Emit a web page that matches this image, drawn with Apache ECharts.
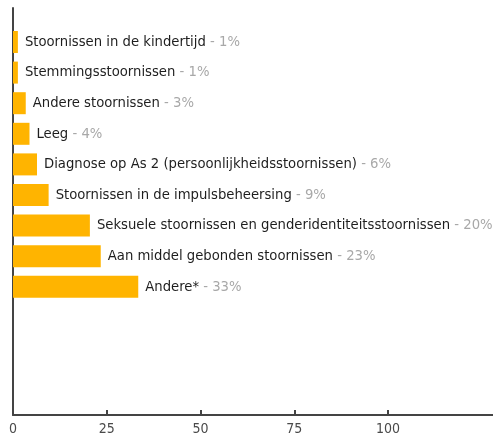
<!DOCTYPE html>
<html lang="nl">
<head>
  <meta charset="UTF-8">
  <title>stoornissen</title>
  <style>
    html, body { margin:0; padding:0; background:#fff; }
    #chart { width:493px; height:437px; }
  </style>
</head>
<body>
  <div id="chart"></div>
  <script src="https://cdn.jsdelivr.net/npm/echarts@6/dist/echarts.min.js"></script>
  <script>
    var categories = [
      'Stoornissen in de kindertijd',
      'Stemmingsstoornissen',
      'Andere stoornissen',
      'Leeg',
      'Diagnose op As 2 (persoonlijkheidsstoornissen)',
      'Stoornissen in de impulsbeheersing',
      'Seksuele stoornissen en genderidentiteitsstoornissen',
      'Aan middel gebonden stoornissen',
      'Andere*'
    ]
    var values = [1.3, 1.3, 3.4, 4.4, 6.4, 9.5, 20.5, 23.4, 33.4]
    var percents = [1, 1, 3, 4, 6, 9, 20, 23, 33]
    var xTicks = [0, 25, 50, 75, 100]

    var font = '"DejaVu Sans Condensed", "Liberation Sans Narrow", sans-serif'

    var myChart = echarts.init(document.getElementById('chart'))
    var option = {
      animation: false,
      grid: [
        { left: 13, right: 0, top: 26.7, bottom: 134.9 },
        { left: 13, right: 0, top: 8, bottom: 22 }
      ],
      xAxis: [
        { gridIndex: 0, type: 'value', min: 0, max: 128, show: false },
        {
          gridIndex: 1, type: 'value', min: 0, max: 128,
          axisLine: { show: true, lineStyle: { color: '#444', width: 2 } },
          axisTick: { show: true, inside: true, length: 5, customValues: [25, 50, 75, 100],
            lineStyle: { color: '#444', width: 2 } },
          axisLabel: { customValues: xTicks, color: '#4a4a4a', fontSize: 14, fontFamily: font, margin: 7 },
          splitLine: { show: false }
        }
      ],
      yAxis: [
        {
          gridIndex: 0, type: 'category', inverse: true, data: categories,
          axisLine: { show: false }, axisTick: { show: false }, axisLabel: { show: false }
        },
        {
          gridIndex: 1, type: 'value',
          axisLine: { show: true, lineStyle: { color: '#444', width: 2 } },
          axisTick: { show: false }, axisLabel: { show: false }, splitLine: { show: false }
        }
      ],
      series: [
        {
          type: 'bar',
          xAxisIndex: 0,
          yAxisIndex: 0,
          barWidth: 22,
          itemStyle: { color: '#FFB400' },
          data: values,
          label: {
            show: true,
            position: 'right',
            distance: 7,
            formatter: function (p) {
              return '{a|' + categories[p.dataIndex] + '}{b| - ' + percents[p.dataIndex] + '%}'
            },
            rich: {
              a: { color: '#1e1e1e', fontSize: 14.7, fontFamily: font },
              b: { color: '#a8a8a8', fontSize: 14.7, fontFamily: font }
            }
          }
        }
      ]
    }
    myChart.setOption(option)
  </script>
</body>
</html>
